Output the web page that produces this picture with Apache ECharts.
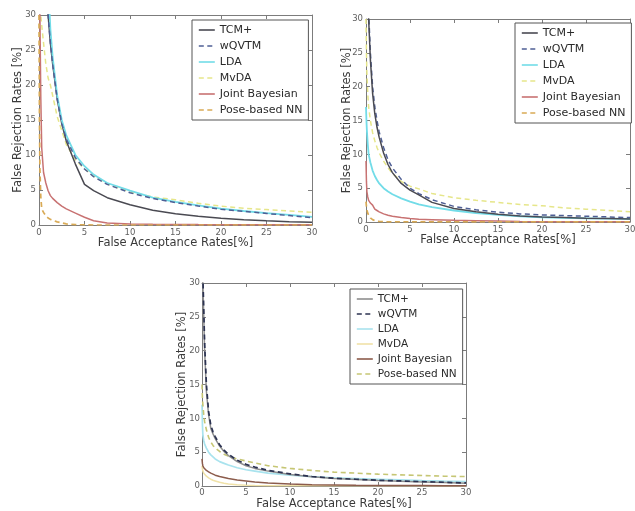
<!DOCTYPE html>
<html>
<head>
<meta charset="utf-8">
<script src="https://cdn.jsdelivr.net/npm/echarts@6/dist/echarts.min.js"></script>
<style>
html,body{margin:0;padding:0;background:#fff;width:635px;height:511px;overflow:hidden;}
.p{position:absolute;}
</style>
</head>
<body>
<div id="c1" class="p" style="left:0;top:0;width:320px;height:256px;"></div>
<div id="c2" class="p" style="left:320px;top:0;width:315px;height:256px;"></div>
<div id="c3" class="p" style="left:150px;top:255px;width:330px;height:256px;"></div>
<script>
// shared x grid (False Acceptance Rate, %)
const X = [0, 0.05, 0.1, 0.2, 0.3, 0.5, 0.75, 1, 1.25, 1.5, 2, 2.5, 3, 4, 5, 6, 7.5, 10, 12.5, 15, 17.5, 20, 22.5, 25, 27.5, 30];
const ticks = [0, 5, 10, 15, 20, 25, 30];
const names = ['TCM+', 'wQVTM', 'LDA', 'MvDA', 'Joint Bayesian', 'Pose-based NN'];
const xTitle = 'False Acceptance Rates[%]';
const yTitle = 'False Rejection Rates [%]';

// panel 1 (top-left)
const p1_TCM   = [99,99,99,99,99,99,40,30,26,23,18,14.5,12,8.7,5.8,4.9,3.9,2.9,2.1,1.6,1.25,0.95,0.75,0.6,0.48,0.38];
const p1_wQVTM = [99,99,99,99,99,99,40,30,26,23,18,14.5,12.3,9.6,8.0,6.9,5.8,4.6,3.8,3.2,2.7,2.25,1.95,1.65,1.35,1.05];
const p1_LDA   = [99,99,99,99,99,99,45,35,28,24,18.5,15,12.8,10,8.4,7.2,6.0,4.9,3.9,3.3,2.8,2.35,2.0,1.7,1.45,1.15];
const p1_MvDA  = [99,60,40,30,28.5,26,23,21,20,18.5,15.5,13.5,11.5,9.3,8.0,7.0,5.9,4.7,4.0,3.6,3.1,2.7,2.4,2.2,2.0,1.8];
const p1_JB    = [99,50,30,18,11,7.5,6,4.9,4.2,3.8,3.2,2.7,2.3,1.7,1.1,0.6,0.3,0.15,0.1,0.08,0.06,0.05,0.04,0.04,0.03,0.03];
const p1_Pose  = [30,15,8,4,2.3,1.8,1.3,1.0,0.8,0.7,0.45,0.3,0.15,0.05,0.02,0,0,0,0,0,0,0,0,0,0,0];

// panel 2 (top-right)
const p2_TCM   = [99,99,60,40,30,24,19,16,14,12.5,10.2,8.5,7.3,5.7,4.7,4.0,2.9,2.0,1.5,1.15,0.9,0.75,0.65,0.55,0.5,0.45];
const p2_wQVTM = [99,99,60,40,31,25,20,17,15,13.3,11,9.2,8.0,6.3,5.0,4.2,3.3,2.3,1.8,1.45,1.2,1.05,0.95,0.85,0.75,0.65];
const p2_LDA   = [17,15,13.5,11.5,10,8.8,7.6,6.8,6.2,5.7,5.0,4.5,4.1,3.5,3.0,2.6,2.2,1.7,1.3,1.05,0.85,0.7,0.6,0.55,0.5,0.45];
const p2_MvDA  = [30,25,22,19,17,15,13.2,12,11,10.2,9,8,7.2,6.0,5.3,4.9,4.2,3.6,3.2,2.9,2.6,2.4,2.1,1.9,1.7,1.5];
const p2_JB    = [9,6,4.5,3.7,3.2,2.8,2.5,1.9,1.7,1.5,1.2,1.0,0.85,0.65,0.5,0.4,0.35,0.25,0.2,0.15,0.08,0.03,0.02,0.02,0.02,0.02];
const p2_Pose  = [3,2.3,1.8,1.3,1.0,0.6,0.35,0.2,0.12,0.08,0.05,0.03,0.03,0.02,0.02,0.02,0.01,0.01,0.01,0.01,0.01,0.01,0.01,0.01,0.01,0.01];

// panel 3 (bottom)
const p3_TCM   = [99,45,30,25,20,14,10.5,8.5,7.7,7.0,5.9,5.1,4.5,3.6,3.0,2.6,2.2,1.7,1.35,1.1,0.95,0.8,0.7,0.6,0.5,0.4];
const p3_wQVTM = [99,45,31,26,21,15,11,9,8,7.3,6.1,5.3,4.7,3.8,3.2,2.8,2.3,1.8,1.4,1.15,1.0,0.85,0.75,0.65,0.55,0.45];
const p3_LDA   = [12,9,7.5,6.7,6.2,5.6,5.0,4.6,4.3,4.0,3.6,3.35,3.1,2.7,2.4,2.2,1.9,1.6,1.4,1.2,1.1,1.0,0.9,0.8,0.72,0.65];
const p3_MvDA  = [3,2.5,2.2,1.9,1.7,1.45,1.2,1.0,0.85,0.75,0.55,0.4,0.3,0.2,0.12,0.08,0.05,0.03,0.03,0.03,0.03,0.03,0.03,0.03,0.03,0.03];
const p3_JB    = [4,3.3,3.0,2.7,2.5,2.3,2.1,1.9,1.75,1.6,1.4,1.25,1.1,0.9,0.75,0.6,0.45,0.3,0.2,0.15,0.1,0.08,0.07,0.06,0.05,0.05];
const p3_Pose  = [15,13,12,10.5,9.5,8.3,7.2,6.5,6.0,5.6,5.1,4.7,4.4,4.0,3.7,3.4,3.0,2.6,2.3,2.05,1.9,1.75,1.65,1.55,1.45,1.4];

function pairs(ys){ return X.map((x,i)=>[x, ys[i]]); }

const FONT = 'DejaVu Sans';
const FRAME = '#7c7c7c';

function axisPair(pos, isX, opts){
  const a = {
    type:'value', min:0, max:30, interval:5, position:pos,
    axisLine:{show:true, onZero:false, lineStyle:{color:FRAME, width:1}},
    axisTick:{show:true, inside:true, length:4, lineStyle:{color:FRAME}},
    splitLine:{show:false},
    axisLabel:{show:false}
  };
  if (opts.main){
    a.axisLabel = {show:true, color:'#606060', fontSize:opts.tickFs, fontFamily:FONT, margin:opts.labMargin,
      formatter:(v)=> ticks.indexOf(v) >= 0 ? String(v) : ''};
    a.name = isX ? xTitle : yTitle;
    a.nameLocation = 'middle';
    a.nameMoveOverlap = false;
    a.nameGap = isX ? opts.xGap : opts.yGap;
    a.nameTextStyle = {color:'#3a3a3a', fontSize:opts.titleFs, fontFamily:FONT};
  }
  return a;
}

function makePanel(id, cfg){
  const chart = echarts.init(document.getElementById(id), null, {renderer:'canvas'});
  const ys = cfg.data;
  const series = names.map((n,i)=>({
    name:n, type:'line', data:pairs(ys[i]), showSymbol:false, symbol:'none',
    smooth:false, clip:true, animation:false, z: cfg.z[i],
    lineStyle:{color:cfg.colors[i], width:cfg.widths[i], type: cfg.dashed[i] ? [5,3.5] : 'solid'},
    itemStyle:{color:cfg.colors[i]},
    xAxisIndex:0, yAxisIndex:0
  }));
  chart.setOption({
    animation:false,
    backgroundColor:'#fff',
    grid:{left:cfg.grid[0], top:cfg.grid[1], right:cfg.grid[2], bottom:cfg.grid[3], containLabel:false, outerBoundsMode:'none'},
    xAxis:[axisPair('bottom', true, Object.assign({main:true}, cfg)), axisPair('top', true, {main:false})],
    yAxis:[axisPair('left', false, Object.assign({main:true}, cfg)), axisPair('right', false, {main:false})],
    legend:{
      orient:'vertical', left:cfg.legend[0], top:cfg.legend[1],
      data:names, selectedMode:false,
      itemWidth:16, itemHeight:10, itemGap:cfg.legendGap,
      padding:[4,6,4,6],
      itemStyle:{opacity:0},
      lineStyle:{width:1.6},
      backgroundColor:'#fff', borderColor:'#555', borderWidth:1, borderRadius:0,
      textStyle:{color:'#2a2a2a', fontSize:cfg.legendFs, fontFamily:FONT, lineHeight:12, padding:[0,0,0,0]}
    },
    series:series
  });
}

makePanel('c1', {
  grid:[39,15,8,31], tickFs:8.5, titleFs:11.5, labMargin:3, xGap:12, yGap:14.5,
  legend:[192,20], legendGap:4, legendFs:11,
  data:[p1_TCM,p1_wQVTM,p1_LDA,p1_MvDA,p1_JB,p1_Pose],
  colors:['#4a4a52','#4f5f95','#72dce8','#e6e68a','#c87272','#d9aa55'],
  widths:[1.5,1.5,1.8,1.5,1.5,1.7],
  dashed:[false,true,false,true,false,true],
  z:[3,5,4,2,2,2]
});
makePanel('c2', {
  grid:[46,19,5,34], tickFs:8.5, titleFs:11.5, labMargin:3, xGap:12.5, yGap:12.5,
  legend:[195,23], legendGap:4, legendFs:11,
  data:[p2_TCM,p2_wQVTM,p2_LDA,p2_MvDA,p2_JB,p2_Pose],
  colors:['#4a4a52','#4f5f95','#72dce8','#e6e68a','#c87272','#d9aa55'],
  widths:[1.5,1.5,1.8,1.5,1.5,1.7],
  dashed:[false,true,false,true,false,true],
  z:[4,3,2,2,2,2]
});
makePanel('c3', {
  grid:[52,28,14,25], tickFs:8.5, titleFs:11.5, labMargin:2, xGap:12.5, yGap:13.5,
  legend:[200,34], legendGap:3, legendFs:10.5,
  data:[p3_TCM,p3_wQVTM,p3_LDA,p3_MvDA,p3_JB,p3_Pose],
  colors:['#8e8e8e','#2c3352','#a9e3ee','#f0e2a8','#8c5c4c','#c6c674'],
  widths:[1.5,1.7,1.7,1.5,1.5,1.6],
  dashed:[false,true,false,false,false,true],
  z:[3,4,2,2,2,2]
});
</script>
</body>
</html>
